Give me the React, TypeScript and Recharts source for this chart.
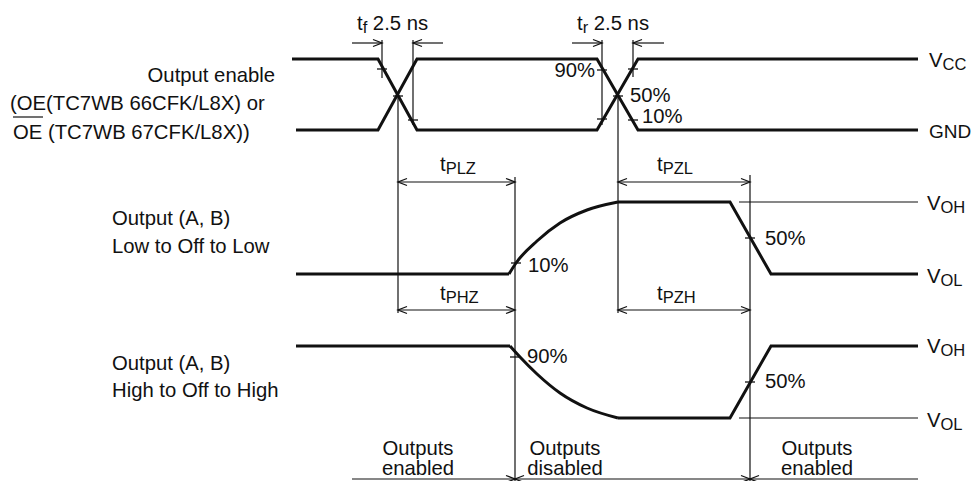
import React from 'react';
import { ComposedChart, Line, Scatter, XAxis, YAxis } from 'recharts';

const W = 973;
const H = 481;
const FONT = "'Liberation Sans', Arial, Helvetica, sans-serif";
const INK = '#111';

// Output enable waveforms (time, level)
const oeFalling = [
  { x: 292, y: 59 }, { x: 378, y: 59 }, { x: 417, y: 130 }, { x: 597, y: 130 }, { x: 638, y: 59 }, { x: 918, y: 59 },
];
const oeRising = [
  { x: 296, y: 130 }, { x: 378, y: 130 }, { x: 417, y: 59 }, { x: 597, y: 59 }, { x: 638, y: 130 }, { x: 918, y: 130 },
];

// Output Low to Off to Low
const lowFlat = [{ x: 296, y: 274 }, { x: 509, y: 274 }];
const lowCurve = [
  { x: 509, y: 274 }, { x: 516, y: 263 }, { x: 537, y: 241 }, { x: 560, y: 223 }, { x: 587, y: 210 }, { x: 618, y: 202 },
];
const lowReturn = [{ x: 618, y: 202 }, { x: 730, y: 202 }, { x: 771, y: 274 }, { x: 918, y: 274 }];
const lowVohRef = [{ x: 739, y: 202 }, { x: 918, y: 202 }];

// Output High to Off to High
const highFlat = [{ x: 296, y: 346 }, { x: 510, y: 346 }];
const highCurve = [
  { x: 510, y: 346 }, { x: 520, y: 357 }, { x: 537, y: 374 }, { x: 560, y: 393 }, { x: 587, y: 408 }, { x: 618, y: 418 },
];
const highReturn = [{ x: 618, y: 418 }, { x: 730, y: 418 }, { x: 771, y: 346 }, { x: 918, y: 346 }];
const highVolRef = [{ x: 739, y: 418 }, { x: 918, y: 418 }];

// thin guide / dimension segments [x1, y1, x2, y2]
const guideSegments: number[][] = [
  [382, 40, 382, 78],
  [413, 40, 413, 125],
  [602, 40, 602, 125],
  [633, 40, 633, 77],
  [398, 96, 398, 313],
  [618, 96, 618, 313],
  [515, 177, 515, 481],
  [750, 175, 750, 481],
  [352, 43, 382, 43],
  [413, 43, 443, 43],
  [572, 43, 602, 43],
  [633, 43, 664, 43],
  [398, 182, 515, 182],
  [618, 182, 750, 182],
  [398, 310, 515, 310],
  [618, 310, 750, 310],
  [352, 479, 918, 479],
  [13, 117, 43, 117],
];

const arrowHeads = [
  { x: 382, y: 43, dir: 'r' }, { x: 413, y: 43, dir: 'l' },
  { x: 602, y: 43, dir: 'r' }, { x: 633, y: 43, dir: 'l' },
  { x: 398, y: 182, dir: 'l' }, { x: 515, y: 182, dir: 'r' },
  { x: 618, y: 182, dir: 'l' }, { x: 750, y: 182, dir: 'r' },
  { x: 398, y: 310, dir: 'l' }, { x: 515, y: 310, dir: 'r' },
  { x: 618, y: 310, dir: 'l' }, { x: 750, y: 310, dir: 'r' },
  { x: 515, y: 479, dir: 'r' }, { x: 515, y: 479, dir: 'l' },
  { x: 750, y: 479, dir: 'r' }, { x: 750, y: 479, dir: 'l' },
];

const tickMarks = [
  { x: 382, y: 69 }, { x: 413, y: 120 }, { x: 398, y: 96 },
  { x: 602, y: 70 }, { x: 633, y: 69 }, { x: 602, y: 119 }, { x: 633, y: 120 }, { x: 618, y: 96 },
  { x: 516, y: 263 }, { x: 515, y: 357 }, { x: 750, y: 238 }, { x: 750, y: 382 },
];

type Part = [string, string?];
const labels: { x: number; y: number; anchor?: string; size?: number; parts: Part[] }[] = [
  { x: 357, y: 30, parts: [['t'], ['f', 's'], [' 2.5 ns']] },
  { x: 577, y: 30, parts: [['t'], ['r', 's'], [' 2.5 ns']] },
  { x: 275, y: 82, anchor: 'end', parts: [['Output enable']] },
  { x: 10, y: 110, parts: [['(OE(TC7WB 66CFK/L8X) or']] },
  { x: 13, y: 139, parts: [['OE (TC7WB 67CFK/L8X))']] },
  { x: 929, y: 67, parts: [['V'], ['CC', 's']] },
  { x: 929, y: 138, size: 19, parts: [['GND']] },
  { x: 595, y: 77, anchor: 'end', parts: [['90%']] },
  { x: 630, y: 102, parts: [['50%']] },
  { x: 642, y: 123, parts: [['10%']] },
  { x: 440, y: 171, parts: [['t'], ['PLZ', 's']] },
  { x: 657, y: 171, parts: [['t'], ['PZL', 's']] },
  { x: 440, y: 300, parts: [['t'], ['PHZ', 's']] },
  { x: 657, y: 300, parts: [['t'], ['PZH', 's']] },
  { x: 112, y: 225, parts: [['Output (A, B)']] },
  { x: 112, y: 253, parts: [['Low to Off to Low']] },
  { x: 528, y: 272, parts: [['10%']] },
  { x: 765, y: 245, parts: [['50%']] },
  { x: 927, y: 210, parts: [['V'], ['OH', 's']] },
  { x: 927, y: 283, parts: [['V'], ['OL', 's']] },
  { x: 112, y: 370, parts: [['Output (A, B)']] },
  { x: 112, y: 397, parts: [['High to Off to High']] },
  { x: 527, y: 363, parts: [['90%']] },
  { x: 765, y: 388, parts: [['50%']] },
  { x: 927, y: 353, parts: [['V'], ['OH', 's']] },
  { x: 927, y: 427, parts: [['V'], ['OL', 's']] },
  { x: 418, y: 455, anchor: 'middle', parts: [['Outputs']] },
  { x: 418, y: 475, anchor: 'middle', parts: [['enabled']] },
  { x: 565, y: 455, anchor: 'middle', parts: [['Outputs']] },
  { x: 565, y: 475, anchor: 'middle', parts: [['disabled']] },
  { x: 817, y: 455, anchor: 'middle', parts: [['Outputs']] },
  { x: 817, y: 475, anchor: 'middle', parts: [['enabled']] },
];

const TextShape = (props: any) => {
  const { cx, cy, payload } = props;
  if (cx == null || cy == null || !payload) return null;
  const base = payload.size || 20.3;
  let shift = 0;
  return (
    <text x={cx} y={cy} textAnchor={payload.anchor || 'start'} fontSize={base} fontFamily={FONT} fill={INK}>
      {payload.parts.map((p: Part, i: number) => {
        const sub = p[1] === 's';
        const target = sub ? 3 : 0;
        const dy = target - shift;
        shift = target;
        return (
          <tspan key={i} dy={dy} fontSize={sub ? 16.5 : base}>
            {p[0]}
          </tspan>
        );
      })}
    </text>
  );
};

const ArrowShape = (props: any) => {
  const { cx, cy, payload } = props;
  if (cx == null || cy == null || !payload) return null;
  const d = payload.dir === 'r' ? -1 : 1;
  return (
    <path
      d={`M${cx + d * 9},${cy - 3.5} L${cx},${cy} L${cx + d * 9},${cy + 3.5}`}
      stroke={INK}
      strokeWidth={1.3}
      fill="none"
    />
  );
};

const TickShape = (props: any) => {
  const { cx, cy } = props;
  if (cx == null || cy == null) return null;
  return <line x1={cx - 5} x2={cx + 5} y1={cy} y2={cy} stroke={INK} strokeWidth={1.3} />;
};

const thick = (data: any[], key: string, type: any = 'linear') => (
  <Line
    key={key}
    data={data}
    dataKey="y"
    type={type}
    stroke={INK}
    strokeWidth={3}
    dot={false}
    activeDot={false}
    isAnimationActive={false}
    strokeLinejoin="miter"
  />
);

const thin = (data: any[], key: string) => (
  <Line
    key={key}
    data={data}
    dataKey="y"
    type="linear"
    stroke={INK}
    strokeWidth={1.2}
    dot={false}
    activeDot={false}
    isAnimationActive={false}
  />
);

export default function App() {
  return (
    <div style={{ position: 'absolute', left: 0, top: 0, width: W, height: H, background: '#fff' }}>
      <ComposedChart width={W} height={H} margin={{ top: 0, right: 0, bottom: 0, left: 0 }}>
        <XAxis type="number" dataKey="x" domain={[0, W]} hide allowDataOverflow />
        <YAxis type="number" dataKey="y" domain={[0, H]} reversed hide allowDataOverflow width={0} />
        {thick(oeFalling, 'oeA')}
        {thick(oeRising, 'oeB')}
        {thick(lowFlat, 'lowFlat')}
        {thick(lowCurve, 'lowCurve', 'monotoneX')}
        {thick(lowReturn, 'lowReturn')}
        {thin(lowVohRef, 'lowVoh')}
        {thick(highFlat, 'highFlat')}
        {thick(highCurve, 'highCurve', 'monotoneX')}
        {thick(highReturn, 'highReturn')}
        {thin(highVolRef, 'highVol')}
        {guideSegments.map((s, i) =>
          thin([{ x: s[0], y: s[1] }, { x: s[2], y: s[3] }], 'g' + i)
        )}
        <Scatter data={arrowHeads} shape={<ArrowShape />} isAnimationActive={false} />
        <Scatter data={tickMarks} shape={<TickShape />} isAnimationActive={false} />
        <Scatter data={labels} shape={<TextShape />} isAnimationActive={false} />
      </ComposedChart>
    </div>
  );
}
